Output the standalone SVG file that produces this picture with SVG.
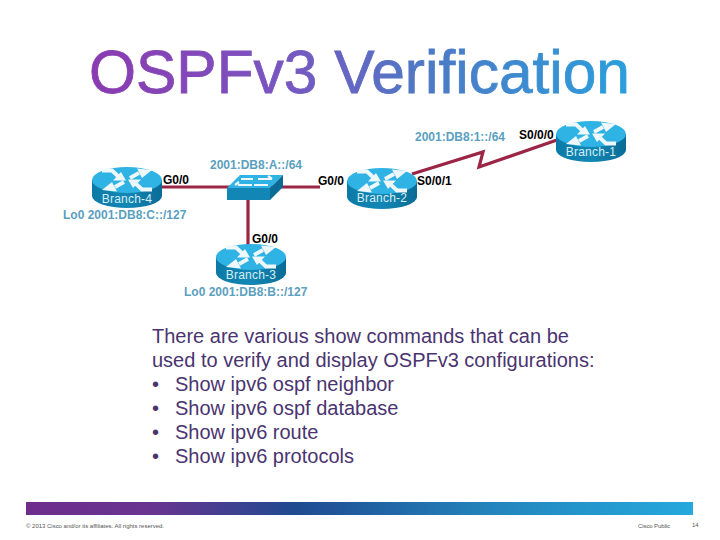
<svg xmlns="http://www.w3.org/2000/svg" width="720" height="540" viewBox="0 0 720 540">
<style>
.lbl{font-family:"Liberation Sans",Arial,sans-serif;font-size:12px;font-weight:700}
.blue{fill:#5b9fc0}
.blk{fill:#000}
.name{font-family:"Liberation Sans",Arial,sans-serif;font-size:12px;fill:#d8eef6;text-anchor:middle;letter-spacing:.2px}
.body{font-family:"Liberation Sans",Arial,sans-serif;font-size:20px;fill:#4a3470}
.foot{font-family:"Liberation Sans",Arial,sans-serif;font-size:6px;fill:#555}
.link{fill:none;stroke:#9b2545;stroke-width:3.200}
</style>
<defs>
<linearGradient id="tg" gradientUnits="userSpaceOnUse" x1="90" y1="0" x2="630" y2="0">
<stop offset="0" stop-color="#8a3ab0"/><stop offset="0.35" stop-color="#7a55c0"/><stop offset="0.6" stop-color="#5077c4"/><stop offset="1" stop-color="#2a9fdc"/>
</linearGradient>
<linearGradient id="bg" gradientUnits="userSpaceOnUse" x1="26" y1="0" x2="693" y2="0">
<stop offset="0" stop-color="#6f2d8c"/><stop offset="0.2" stop-color="#663590"/><stop offset="0.4" stop-color="#1f4a90"/><stop offset="0.7" stop-color="#2385bd"/><stop offset="1" stop-color="#25a9dd"/>
</linearGradient>
<linearGradient id="side" x1="0" y1="0" x2="1" y2="0">
<stop offset="0" stop-color="#0c7aa6"/><stop offset="0.5" stop-color="#1287b5"/><stop offset="1" stop-color="#0a6c96"/>
</linearGradient>
<g id="router">
<path d="M-35 -8V8A35 12 0 0 0 35 8V-8Z" fill="url(#side)"/>
<ellipse cx="0" cy="-8" rx="35" ry="13" fill="#2fb2e4"/>
<path d="M-25 -17.500H-15L-7 -10M25 1.500H15L7 -6M3 -10L12 -15M-3 -6L-12 -1" fill="none" stroke="#eef8fb" stroke-width="3.800"/>
<path d="M-1 -7.500H-14L-6 -16ZM1 -8.500H14L6 0ZM25 -18L10 -19.500L15 -10ZM-25 2L-10 3.500L-15 -6Z" fill="#eef8fb"/>
</g>
</defs>
<rect width="720" height="540" fill="#fff"/>
<text x="89" y="93" font-family="'Liberation Sans',Arial,sans-serif" font-size="61" fill="url(#tg)" stroke="url(#tg)" stroke-width="0.800" textLength="541" lengthAdjust="spacingAndGlyphs">OSPFv3 Verification</text>
<g id="connectors">
<path class="link" d="M160 187H320"/>
<path class="link" d="M248 195V245"/>
<path class="link" d="M412 174L483 152L479 167L557 140"/>
</g>
<g id="switch">
<path d="M227 188L240 175H283L270 188Z" fill="#2fb2e4"/>
<path d="M227 188H270V200H227Z" fill="#1287b5"/>
<path d="M270 188L283 175V187L270 200Z" fill="#0a6c96"/>
<path d="M238 185H252M235 185L239 182M241 179H253M254 185H268M258 179H272M272 179L268 176" stroke="#eef8fb" stroke-width="2.200" fill="none"/>
</g>
<g id="branch-4"><use href="#router" x="127" y="188"/><text class="name" x="127" y="203">Branch-4</text></g>
<g id="branch-3"><use href="#router" x="251" y="265"/><text class="name" x="251" y="279">Branch-3</text></g>
<g id="branch-2"><use href="#router" x="382" y="189"/><text class="name" x="382" y="202">Branch-2</text></g>
<g id="branch-1"><use href="#router" x="591" y="142"/><text class="name" x="591" y="156">Branch-1</text></g>
<g id="labels">
<text class="lbl blue" x="415" y="141">2001:DB8:1::/64</text>
<text class="lbl blk" x="519" y="139">S0/0/0</text>
<text class="lbl blk" x="417" y="185">S0/0/1</text>
<text class="lbl blue" x="210" y="169">2001:DB8:A::/64</text>
<text class="lbl blk" x="163" y="184">G0/0</text>
<text class="lbl blk" x="318" y="185">G0/0</text>
<text class="lbl blk" x="252" y="243">G0/0</text>
<text class="lbl blue" x="63" y="219">Lo0 2001:DB8:C::/127</text>
<text class="lbl blue" x="184" y="296">Lo0 2001:DB8:B::/127</text>
</g>
<g id="body">
<text class="body" x="152" y="343">There are various show commands that can be</text>
<text class="body" x="152" y="367">used to verify and display OSPFv3 configurations:</text>
<text class="body" x="152" y="391">•</text><text class="body" x="175" y="391">Show ipv6 ospf neighbor</text>
<text class="body" x="152" y="415">•</text><text class="body" x="175" y="415">Show ipv6 ospf database</text>
<text class="body" x="152" y="439">•</text><text class="body" x="175" y="439">Show ipv6 route</text>
<text class="body" x="152" y="463">•</text><text class="body" x="175" y="463">Show ipv6 protocols</text>
</g>
<rect x="26" y="502" width="667" height="13" fill="url(#bg)"/>
<text class="foot" x="26" y="528" textLength="138">© 2013 Cisco and/or its affiliates. All rights reserved.</text>
<text class="foot" x="638" y="528" textLength="32">Cisco Public</text>
<text class="foot" x="692" y="527">14</text>
</svg>
